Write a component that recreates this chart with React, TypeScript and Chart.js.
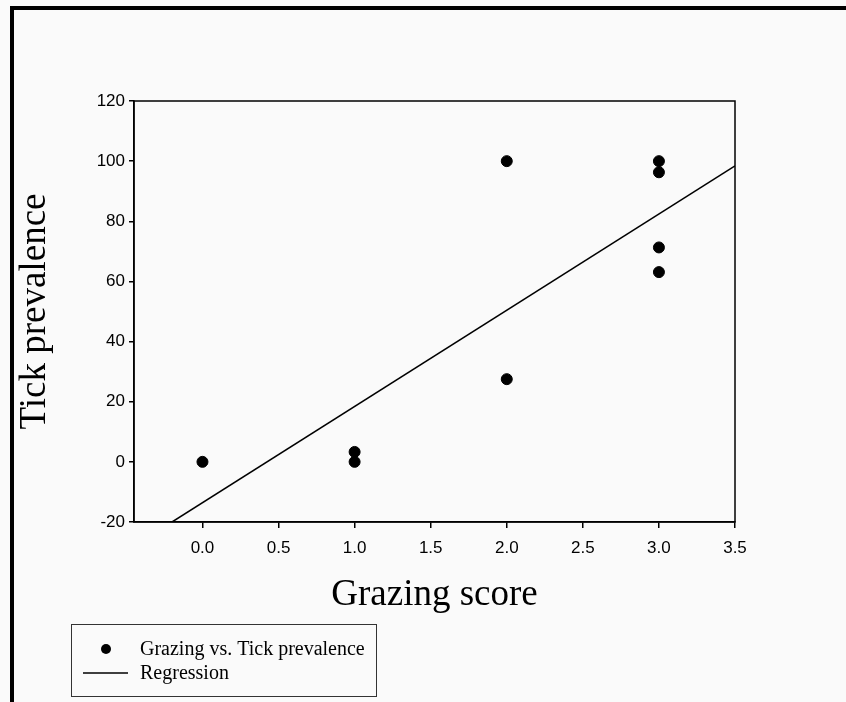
import React, { useEffect, useRef } from "react";
import { Chart, registerables } from "chart.js";

Chart.register(...registerables);

// Observed sites: grazing score vs. tick prevalence (%)
const grazingScore = [0, 1, 1, 2, 2, 3, 3, 3, 3];
const tickPrevalence = [0, 3.3, 0, 100, 27.5, 100, 96.3, 71.3, 63.1];

// Fitted regression line, evaluated at its two ends
const regressionX = [-0.2, 3.5];
const regressionY = [-20, 98.4];

const xTickValues = [0, 0.5, 1, 1.5, 2, 2.5, 3, 3.5];
const yTickValues = [-20, 0, 20, 40, 60, 80, 100, 120];

const SERIF = "'Liberation Serif', 'Times New Roman', serif";
const SANS = "'Liberation Sans', Arial, sans-serif";

const W = 846;
const H = 702;

// Frame around the plotting area plus a boxed legend below the x axis
const framePlugin = {
  id: "frameAndLegend",
  afterDraw(chart: any) {
    const { ctx, chartArea } = chart;
    ctx.save();
    ctx.strokeStyle = "#000";
    ctx.lineWidth = 1.5;
    ctx.strokeRect(
      chartArea.left,
      chartArea.top,
      chartArea.right - chartArea.left,
      chartArea.bottom - chartArea.top
    );

    // legend box
    const bx = 71.5, by = 624.5, bw = 305, bh = 72;
    ctx.lineWidth = 1;
    ctx.strokeStyle = "#333";
    ctx.strokeRect(bx, by, bw, bh);

    const ds = chart.data.datasets;
    ctx.fillStyle = "#000";
    ctx.beginPath();
    ctx.arc(106, 649, 5, 0, Math.PI * 2);
    ctx.fill();

    ctx.strokeStyle = "#000";
    ctx.lineWidth = 1.3;
    ctx.beginPath();
    ctx.moveTo(83, 673);
    ctx.lineTo(128, 673);
    ctx.stroke();

    ctx.font = `20px ${SERIF}`;
    ctx.textBaseline = "alphabetic";
    ctx.textAlign = "left";
    ctx.fillText(ds[0].label, 140, 655);
    ctx.fillText(ds[1].label, 140, 679);
    ctx.restore();
  },
};

export default function App() {
  const canvasRef = useRef<HTMLCanvasElement | null>(null);

  useEffect(() => {
    const canvas = canvasRef.current;
    if (!canvas) return;

    const chart = new Chart(canvas, {
      type: "scatter",
      data: {
        datasets: [
          {
            label: "Grazing vs. Tick prevalence",
            data: grazingScore.map((x, i) => ({ x, y: tickPrevalence[i] })),
            backgroundColor: "#000",
            borderColor: "#000",
            pointRadius: 5.5,
            pointHoverRadius: 5.5,
            showLine: false,
          },
          {
            label: "Regression",
            data: regressionX.map((x, i) => ({ x, y: regressionY[i] })),
            borderColor: "#000",
            backgroundColor: "#000",
            borderWidth: 1.5,
            pointRadius: 0,
            showLine: true,
          },
        ],
      },
      options: {
        responsive: false,
        animation: false,
        events: [],
        layout: { padding: { left: 0, top: 101, right: 111, bottom: 0 } },
        plugins: {
          legend: { display: false },
          tooltip: { enabled: false },
        },
        scales: {
          x: {
            type: "linear",
            min: -0.45,
            max: 3.5,
            afterBuildTicks: (scale: any) => {
              scale.ticks = xTickValues.map((value) => ({ value }));
            },
            afterFit: (scale: any) => {
              scale.height = H - 522;
            },
            ticks: {
              color: "#000",
              padding: 10,
              font: { family: SANS, size: 17 },
              callback: (v: any) => Number(v).toFixed(1),
            },
            grid: {
              drawOnChartArea: false,
              drawTicks: true,
              tickLength: 6,
              color: "#000",
              lineWidth: 1.5,
            },
            border: { display: true, color: "#000", width: 1.5 },
            title: {
              display: true,
              text: "Grazing score",
              color: "#000",
              font: { family: SERIF, size: 37 },
              padding: { top: 0, bottom: 85 },
            },
          },
          y: {
            type: "linear",
            min: -20,
            max: 120,
            afterBuildTicks: (scale: any) => {
              scale.ticks = yTickValues.map((value) => ({ value }));
            },
            afterFit: (scale: any) => {
              scale.width = 134;
            },
            ticks: {
              color: "#000",
              padding: 4,
              font: { family: SANS, size: 17 },
            },
            grid: {
              drawOnChartArea: false,
              drawTicks: true,
              tickLength: 5,
              color: "#000",
              lineWidth: 1.5,
            },
            border: { display: true, color: "#000", width: 1.5 },
            title: {
              display: true,
              text: "Tick prevalence",
              color: "#000",
              font: { family: SERIF, size: 37 },
              padding: { top: 13, bottom: 0 },
            },
          },
        },
      },
      plugins: [framePlugin],
    });

    return () => chart.destroy();
  }, []);

  return (
    <div
      style={{
        position: "absolute",
        left: 0,
        top: 0,
        width: W,
        height: H,
        background: "#fafafa",
        overflow: "hidden",
      }}
    >
      <div style={{ position: "absolute", left: 10, top: 6, width: W - 10, height: 4, background: "#000" }} />
      <div style={{ position: "absolute", left: 10, top: 6, width: 4, height: H - 6, background: "#000" }} />
      <canvas
        ref={canvasRef}
        width={W}
        height={H}
        style={{ position: "absolute", left: 0, top: 0, width: W, height: H }}
      />
    </div>
  );
}
